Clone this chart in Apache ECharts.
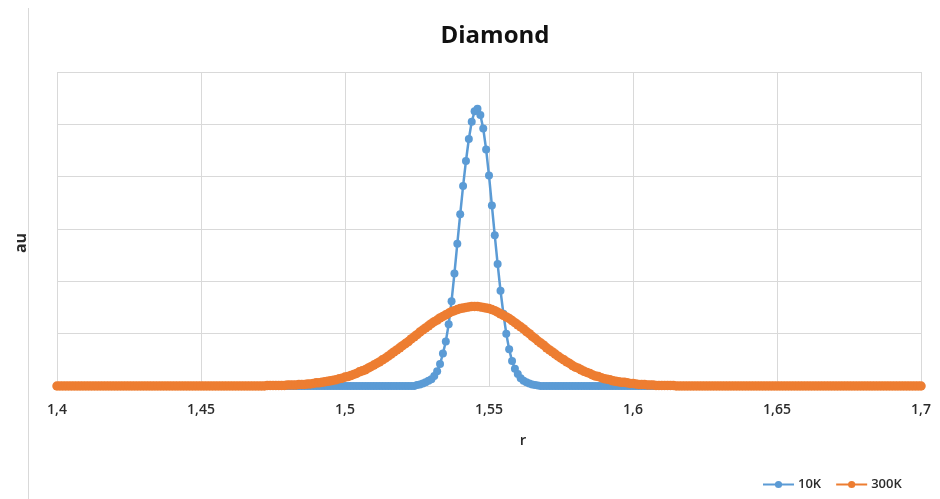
<!DOCTYPE html>
<html>
<head>
<meta charset="utf-8">
<script src="https://cdn.jsdelivr.net/npm/echarts@6/dist/echarts.min.js"></script>
<style>
  html, body { margin: 0; padding: 0; background: #ffffff; }
  #chart { width: 940px; height: 499px; }
</style>
</head>
<body>
<div id="chart"></div>
<script>
// r sampling grid (1.400 ... 1.700, step 0.001)
const rValues = [
  1.400,1.401,1.402,1.403,1.404,1.405,1.406,1.407,1.408,1.409,
  1.410,1.411,1.412,1.413,1.414,1.415,1.416,1.417,1.418,1.419,
  1.420,1.421,1.422,1.423,1.424,1.425,1.426,1.427,1.428,1.429,
  1.430,1.431,1.432,1.433,1.434,1.435,1.436,1.437,1.438,1.439,
  1.440,1.441,1.442,1.443,1.444,1.445,1.446,1.447,1.448,1.449,
  1.450,1.451,1.452,1.453,1.454,1.455,1.456,1.457,1.458,1.459,
  1.460,1.461,1.462,1.463,1.464,1.465,1.466,1.467,1.468,1.469,
  1.470,1.471,1.472,1.473,1.474,1.475,1.476,1.477,1.478,1.479,
  1.480,1.481,1.482,1.483,1.484,1.485,1.486,1.487,1.488,1.489,
  1.490,1.491,1.492,1.493,1.494,1.495,1.496,1.497,1.498,1.499,
  1.500,1.501,1.502,1.503,1.504,1.505,1.506,1.507,1.508,1.509,
  1.510,1.511,1.512,1.513,1.514,1.515,1.516,1.517,1.518,1.519,
  1.520,1.521,1.522,1.523,1.524,1.525,1.526,1.527,1.528,1.529,
  1.530,1.531,1.532,1.533,1.534,1.535,1.536,1.537,1.538,1.539,
  1.540,1.541,1.542,1.543,1.544,1.545,1.546,1.547,1.548,1.549,
  1.550,1.551,1.552,1.553,1.554,1.555,1.556,1.557,1.558,1.559,
  1.560,1.561,1.562,1.563,1.564,1.565,1.566,1.567,1.568,1.569,
  1.570,1.571,1.572,1.573,1.574,1.575,1.576,1.577,1.578,1.579,
  1.580,1.581,1.582,1.583,1.584,1.585,1.586,1.587,1.588,1.589,
  1.590,1.591,1.592,1.593,1.594,1.595,1.596,1.597,1.598,1.599,
  1.600,1.601,1.602,1.603,1.604,1.605,1.606,1.607,1.608,1.609,
  1.610,1.611,1.612,1.613,1.614,1.615,1.616,1.617,1.618,1.619,
  1.620,1.621,1.622,1.623,1.624,1.625,1.626,1.627,1.628,1.629,
  1.630,1.631,1.632,1.633,1.634,1.635,1.636,1.637,1.638,1.639,
  1.640,1.641,1.642,1.643,1.644,1.645,1.646,1.647,1.648,1.649,
  1.650,1.651,1.652,1.653,1.654,1.655,1.656,1.657,1.658,1.659,
  1.660,1.661,1.662,1.663,1.664,1.665,1.666,1.667,1.668,1.669,
  1.670,1.671,1.672,1.673,1.674,1.675,1.676,1.677,1.678,1.679,
  1.680,1.681,1.682,1.683,1.684,1.685,1.686,1.687,1.688,1.689,
  1.690,1.691,1.692,1.693,1.694,1.695,1.696,1.697,1.698,1.699,
  1.700
];

// 10K distribution (au)
const values10K = [
  0,0,0,0,0,0,0,0,0,0,
  0,0,0,0,0,0,0,0,0,0,
  0,0,0,0,0,0,0,0,0,0,
  0,0,0,0,0,0,0,0,0,0,
  0,0,0,0,0,0,0,0,0,0,
  0,0,0,0,0,0,0,0,0,0,
  0,0,0,0,0,0,0,0,0,0,
  0,0,0,0,0,0,0,0,0,0,
  0,0,0,0,0,0,0,0,0,0,
  0,0,0,0,0,0,0,0,0,0,
  0,0,0,0,0,0,0,0,0,0,
  0,0,0,0,0,0,0,0,0,0,
  0,0,0,0,0,0.02,0.03,0.05,0.07,0.10,
  0.13,0.19,0.28,0.42,0.62,0.85,1.18,1.62,2.15,2.72,
  3.28,3.82,4.30,4.72,5.05,5.25,5.30,5.18,4.92,4.52,
  4.02,3.45,2.88,2.33,1.82,1.38,1.00,0.70,0.48,0.33,
  0.23,0.15,0.10,0.07,0.05,0.03,0.02,0.01,0,0,
  0,0,0,0,0,0,0,0,0,0,
  0,0,0,0,0,0,0,0,0,0,
  0,0,0,0,0,0,0,0,0,0,
  0,0,0,0,0,0,0,0,0,0,
  0,0,0,0,0,0,0,0,0,0,
  0,0,0,0,0,0,0,0,0,0,
  0,0,0,0,0,0,0,0,0,0,
  0,0,0,0,0,0,0,0,0,0,
  0,0,0,0,0,0,0,0,0,0,
  0,0,0,0,0,0,0,0,0,0,
  0,0,0,0,0,0,0,0,0,0,
  0,0,0,0,0,0,0,0,0,0,
  0,0,0,0,0,0,0,0,0,0,
  0
];

// 300K distribution (au)
const values300K = [
  0,0,0,0,0,0,0,0,0,0,
  0,0,0,0,0,0,0,0,0,0,
  0,0,0,0,0,0,0,0,0,0,
  0,0,0,0,0,0,0,0,0,0,
  0,0,0,0,0,0,0,0,0,0,
  0,0,0,0,0,0,0,0,0,0,
  0,0,0,0,0,0,0,0,0,0,
  0,0,0,0.01,0.01,0.01,0.01,0.01,0.01,0.01,
  0.02,0.02,0.02,0.02,0.03,0.03,0.03,0.04,0.04,0.05,
  0.06,0.06,0.07,0.08,0.09,0.10,0.11,0.12,0.14,0.15,
  0.17,0.18,0.20,0.22,0.24,0.27,0.29,0.31,0.34,0.37,
  0.40,0.43,0.46,0.50,0.53,0.57,0.61,0.65,0.69,0.73,
  0.77,0.81,0.85,0.90,0.94,0.98,1.03,1.07,1.11,1.15,
  1.19,1.23,1.26,1.30,1.33,1.36,1.39,1.42,1.44,1.46,
  1.48,1.49,1.50,1.51,1.52,1.52,1.52,1.51,1.50,1.49,
  1.48,1.46,1.44,1.41,1.38,1.35,1.32,1.29,1.25,1.21,
  1.17,1.13,1.09,1.04,1.00,0.95,0.91,0.86,0.82,0.78,
  0.73,0.69,0.65,0.61,0.57,0.53,0.50,0.46,0.43,0.39,
  0.36,0.34,0.31,0.28,0.26,0.24,0.21,0.19,0.18,0.16,
  0.14,0.13,0.12,0.10,0.09,0.08,0.07,0.07,0.06,0.05,
  0.05,0.04,0.03,0.03,0.03,0.02,0.02,0.02,0.01,0.01,
  0.01,0.01,0.01,0.01,0.01,0,0,0,0,0,
  0,0,0,0,0,0,0,0,0,0,
  0,0,0,0,0,0,0,0,0,0,
  0,0,0,0,0,0,0,0,0,0,
  0,0,0,0,0,0,0,0,0,0,
  0,0,0,0,0,0,0,0,0,0,
  0,0,0,0,0,0,0,0,0,0,
  0,0,0,0,0,0,0,0,0,0,
  0,0,0,0,0,0,0,0,0,0,
  0
];

const seriesNames = ['10K', '300K'];
const chartTitle = 'Diamond';
const xAxisTitle = 'r';
const yAxisTitle = 'au';

const pairs = (ys) => rValues.map((r, i) => [r, ys[i]]);
const fmtComma = (v) => String(Math.round(v * 100) / 100).replace('.', ',');

const FONT = '"Open Sans", "DejaVu Sans", sans-serif';
const GRID_COLOR = '#d9d9d9';
const TEXT_COLOR = '#2b2b2b';
const BLUE = '#5b9bd5';
const ORANGE = '#ed7d31';

const chart = echarts.init(document.getElementById('chart'), null, { renderer: 'canvas' });

chart.setOption({
  animation: false,
  backgroundColor: '#ffffff',
  title: {
    text: chartTitle,
    left: 490,
    textAlign: 'center',
    top: 19,
    textStyle: { fontFamily: FONT, fontSize: 24, fontWeight: 'bold', color: '#111111' }
  },
  legend: {
    data: seriesNames,
    left: 757,
    top: 473,
    itemWidth: 31,
    itemHeight: 9,
    itemGap: 14,
    textStyle: { fontFamily: FONT, fontSize: 13, fontWeight: 600, color: TEXT_COLOR, padding: [0, 0, 0, -1] }
  },
  grid: { left: 57, right: 19, top: 72, bottom: 113, containLabel: false },
  xAxis: {
    type: 'value',
    min: 1.4,
    max: 1.7,
    interval: 0.05,
    axisLine: { show: true, lineStyle: { color: GRID_COLOR, width: 1 } },
    axisTick: { show: false },
    splitLine: { show: true, lineStyle: { color: GRID_COLOR, width: 1 } },
    axisLabel: {
      margin: 17,
      formatter: fmtComma,
      fontFamily: FONT, fontSize: 14, fontWeight: 600, color: TEXT_COLOR
    }
  },
  yAxis: {
    type: 'value',
    min: 0,
    max: 6,
    interval: 1,
    axisLine: { show: false },
    axisTick: { show: false },
    axisLabel: { show: false },
    splitLine: { show: true, lineStyle: { color: GRID_COLOR, width: 1 } }
  },
  graphic: [
    {
      type: 'line',
      shape: { x1: 28.5, y1: 8, x2: 28.5, y2: 499 },
      style: { stroke: GRID_COLOR, lineWidth: 1 },
      silent: true
    },
    {
      type: 'text',
      x: 523, y: 441,
      style: {
        text: xAxisTitle, fontFamily: FONT, fontSize: 15, fontWeight: 600,
        fill: TEXT_COLOR, align: 'center', verticalAlign: 'middle'
      }
    },
    {
      type: 'text',
      x: 21, y: 243,
      rotation: Math.PI / 2,
      style: {
        text: yAxisTitle, fontFamily: FONT, fontSize: 16, fontWeight: 'bold',
        fill: TEXT_COLOR, align: 'center', verticalAlign: 'middle'
      }
    }
  ],
  series: [
    {
      name: seriesNames[0],
      type: 'line',
      data: pairs(values10K),
      symbol: 'circle',
      symbolSize: 8,
      showAllSymbol: true,
      color: BLUE,
      lineStyle: { color: BLUE, width: 2.5 },
      itemStyle: { color: BLUE },
      z: 2
    },
    {
      name: seriesNames[1],
      type: 'line',
      data: pairs(values300K),
      symbol: 'circle',
      symbolSize: 9.5,
      showAllSymbol: true,
      color: ORANGE,
      lineStyle: { color: ORANGE, width: 3 },
      itemStyle: { color: ORANGE },
      z: 3
    }
  ]
});
</script>
</body>
</html>
